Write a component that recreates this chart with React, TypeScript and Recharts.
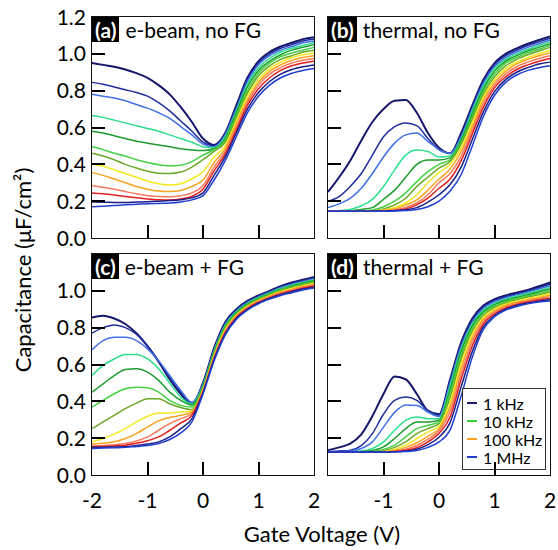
import { LineChart, Line, XAxis, YAxis, Legend } from 'recharts'

const FONT = 'Lato, "Open Sans", "DejaVu Sans", sans-serif'

// gate voltage samples shared by every curve (V)
const VOLTS = [-2, -1.8, -1.6, -1.4, -1.2, -1, -0.8, -0.6, -0.4, -0.2, 0, 0.2, 0.4, 0.6, 0.8, 1, 1.2, 1.4, 1.6, 1.8, 2]

// one colour per measurement frequency, low (1 kHz) to high (1 MHz)
const CURVE_COLORS = [
  '#16166b', '#1f2e9a', '#4270e6', '#2ddf8c', '#1d9c2d', '#44d044', '#6aa828',
  '#f0ea1e', '#f8a21e', '#f57a5a', '#e31e1e', '#1a1f85', '#1f3fd0',
]

// capacitance in uF/cm2, one row per frequency
const EBEAM_NO_FG = [
  [0.95, 0.94, 0.93, 0.915, 0.895, 0.87, 0.83, 0.78, 0.71, 0.63, 0.54, 0.505, 0.57, 0.72, 0.87, 0.96, 1.01, 1.04, 1.06, 1.08, 1.09],
  [0.845, 0.835, 0.82, 0.805, 0.79, 0.77, 0.735, 0.69, 0.635, 0.58, 0.52, 0.5, 0.565, 0.71, 0.86, 0.95, 1.0, 1.03, 1.05, 1.07, 1.08],
  [0.78, 0.77, 0.76, 0.745, 0.725, 0.705, 0.68, 0.65, 0.605, 0.56, 0.51, 0.495, 0.56, 0.7, 0.85, 0.94, 0.99, 1.02, 1.04, 1.06, 1.07],
  [0.665, 0.655, 0.64, 0.625, 0.61, 0.595, 0.58, 0.56, 0.54, 0.52, 0.495, 0.49, 0.55, 0.69, 0.835, 0.925, 0.975, 1.01, 1.03, 1.045, 1.06],
  [0.58, 0.57, 0.555, 0.54, 0.525, 0.515, 0.505, 0.495, 0.485, 0.478, 0.475, 0.485, 0.54, 0.68, 0.82, 0.91, 0.96, 0.995, 1.02, 1.035, 1.05],
  [0.495, 0.48, 0.46, 0.445, 0.425, 0.41, 0.398, 0.392, 0.395, 0.415, 0.45, 0.48, 0.53, 0.665, 0.8, 0.895, 0.95, 0.985, 1.005, 1.02, 1.035],
  [0.46, 0.445, 0.425, 0.4, 0.38, 0.362, 0.352, 0.35, 0.358, 0.385, 0.425, 0.47, 0.52, 0.65, 0.785, 0.88, 0.935, 0.97, 0.99, 1.01, 1.02],
  [0.4, 0.39, 0.37, 0.35, 0.33, 0.31, 0.295, 0.288, 0.295, 0.322, 0.36, 0.44, 0.5, 0.635, 0.77, 0.86, 0.92, 0.955, 0.98, 0.995, 1.005],
  [0.355, 0.34, 0.32, 0.3, 0.28, 0.265, 0.255, 0.252, 0.258, 0.28, 0.315, 0.41, 0.485, 0.62, 0.75, 0.845, 0.905, 0.94, 0.965, 0.98, 0.99],
  [0.285, 0.275, 0.265, 0.252, 0.24, 0.23, 0.225, 0.224, 0.23, 0.245, 0.285, 0.385, 0.47, 0.6, 0.735, 0.83, 0.89, 0.925, 0.95, 0.965, 0.975],
  [0.245, 0.24, 0.233, 0.225, 0.218, 0.212, 0.208, 0.207, 0.212, 0.227, 0.265, 0.365, 0.455, 0.585, 0.72, 0.81, 0.87, 0.91, 0.935, 0.95, 0.96],
  [0.195, 0.194, 0.193, 0.193, 0.195, 0.197, 0.2, 0.203, 0.208, 0.218, 0.245, 0.34, 0.44, 0.57, 0.7, 0.79, 0.85, 0.89, 0.915, 0.93, 0.94],
  [0.17, 0.173, 0.176, 0.18, 0.183, 0.186, 0.188, 0.19, 0.196, 0.207, 0.23, 0.315, 0.42, 0.55, 0.68, 0.77, 0.83, 0.87, 0.895, 0.91, 0.92],
]

const THERMAL_NO_FG = [
  [0.25, 0.33, 0.42, 0.53, 0.63, 0.7, 0.745, 0.75, 0.68, 0.57, 0.49, 0.46, 0.57, 0.72, 0.86, 0.95, 1.0, 1.03, 1.055, 1.075, 1.095],
  [0.2, 0.225, 0.28, 0.35, 0.45, 0.55, 0.605, 0.625, 0.61, 0.54, 0.48, 0.46, 0.56, 0.71, 0.85, 0.94, 0.99, 1.02, 1.045, 1.065, 1.085],
  [0.165, 0.185, 0.215, 0.27, 0.35, 0.44, 0.515, 0.56, 0.57, 0.525, 0.48, 0.46, 0.55, 0.7, 0.84, 0.93, 0.98, 1.01, 1.035, 1.055, 1.075],
  [0.145, 0.148, 0.155, 0.175, 0.21, 0.28, 0.37, 0.45, 0.478, 0.47, 0.44, 0.445, 0.54, 0.69, 0.825, 0.92, 0.97, 1.0, 1.025, 1.045, 1.065],
  [0.145, 0.145, 0.147, 0.155, 0.165, 0.21, 0.26, 0.33, 0.4, 0.424, 0.424, 0.435, 0.53, 0.675, 0.81, 0.905, 0.96, 0.99, 1.015, 1.035, 1.055],
  [0.145, 0.145, 0.145, 0.147, 0.152, 0.17, 0.2, 0.245, 0.306, 0.36, 0.4, 0.425, 0.52, 0.66, 0.795, 0.89, 0.95, 0.98, 1.005, 1.025, 1.045],
  [0.145, 0.145, 0.145, 0.146, 0.148, 0.158, 0.18, 0.216, 0.28, 0.33, 0.38, 0.415, 0.51, 0.645, 0.78, 0.875, 0.935, 0.97, 0.995, 1.015, 1.035],
  [0.145, 0.145, 0.145, 0.145, 0.147, 0.152, 0.166, 0.19, 0.235, 0.3, 0.355, 0.4, 0.49, 0.625, 0.765, 0.86, 0.92, 0.955, 0.98, 1.0, 1.02],
  [0.145, 0.145, 0.145, 0.145, 0.146, 0.149, 0.157, 0.18, 0.207, 0.26, 0.32, 0.375, 0.47, 0.605, 0.75, 0.845, 0.905, 0.945, 0.97, 0.99, 1.005],
  [0.145, 0.145, 0.145, 0.145, 0.145, 0.147, 0.153, 0.166, 0.19, 0.235, 0.3, 0.35, 0.445, 0.585, 0.73, 0.83, 0.89, 0.93, 0.955, 0.975, 0.99],
  [0.145, 0.145, 0.145, 0.145, 0.145, 0.146, 0.15, 0.158, 0.18, 0.216, 0.27, 0.32, 0.42, 0.565, 0.71, 0.815, 0.875, 0.915, 0.94, 0.96, 0.975],
  [0.145, 0.145, 0.145, 0.145, 0.145, 0.145, 0.148, 0.153, 0.165, 0.195, 0.235, 0.29, 0.385, 0.535, 0.685, 0.795, 0.86, 0.9, 0.925, 0.945, 0.955],
  [0.145, 0.145, 0.145, 0.145, 0.145, 0.145, 0.146, 0.149, 0.155, 0.17, 0.2, 0.255, 0.345, 0.5, 0.66, 0.775, 0.845, 0.885, 0.91, 0.925, 0.935],
]

const EBEAM_FG = [
  [0.855, 0.865, 0.85, 0.82, 0.77, 0.7, 0.615, 0.52, 0.44, 0.385, 0.5, 0.69, 0.83, 0.9, 0.945, 0.975, 1.0, 1.025, 1.045, 1.06, 1.075],
  [0.77, 0.8, 0.815, 0.8, 0.765, 0.7, 0.62, 0.53, 0.45, 0.39, 0.495, 0.684, 0.824, 0.895, 0.941, 0.971, 0.996, 1.021, 1.04, 1.055, 1.07],
  [0.68, 0.73, 0.748, 0.748, 0.73, 0.685, 0.62, 0.54, 0.459, 0.395, 0.49, 0.678, 0.818, 0.891, 0.937, 0.967, 0.992, 1.017, 1.036, 1.051, 1.065],
  [0.54, 0.595, 0.63, 0.654, 0.654, 0.63, 0.577, 0.5, 0.423, 0.385, 0.485, 0.672, 0.812, 0.886, 0.932, 0.964, 0.989, 1.013, 1.031, 1.046, 1.06],
  [0.45, 0.495, 0.54, 0.573, 0.577, 0.559, 0.514, 0.45, 0.405, 0.38, 0.48, 0.667, 0.807, 0.882, 0.928, 0.96, 0.985, 1.008, 1.027, 1.042, 1.055],
  [0.369, 0.405, 0.441, 0.468, 0.477, 0.474, 0.45, 0.405, 0.378, 0.369, 0.475, 0.661, 0.801, 0.877, 0.924, 0.956, 0.981, 1.004, 1.022, 1.037, 1.05],
  [0.252, 0.288, 0.324, 0.36, 0.39, 0.414, 0.414, 0.387, 0.366, 0.355, 0.47, 0.655, 0.795, 0.872, 0.92, 0.952, 0.977, 1.0, 1.018, 1.033, 1.045],
  [0.18, 0.198, 0.222, 0.252, 0.288, 0.319, 0.337, 0.337, 0.342, 0.348, 0.465, 0.649, 0.789, 0.868, 0.916, 0.948, 0.974, 0.996, 1.013, 1.028, 1.04],
  [0.168, 0.172, 0.18, 0.198, 0.225, 0.261, 0.294, 0.312, 0.324, 0.342, 0.46, 0.643, 0.783, 0.863, 0.912, 0.945, 0.97, 0.992, 1.008, 1.023, 1.035],
  [0.157, 0.16, 0.164, 0.171, 0.185, 0.207, 0.243, 0.279, 0.306, 0.333, 0.455, 0.637, 0.777, 0.859, 0.907, 0.941, 0.966, 0.988, 1.004, 1.019, 1.03],
  [0.153, 0.155, 0.158, 0.162, 0.172, 0.186, 0.207, 0.243, 0.283, 0.324, 0.45, 0.631, 0.771, 0.854, 0.903, 0.937, 0.962, 0.983, 0.999, 1.014, 1.025],
  [0.15, 0.151, 0.152, 0.153, 0.16, 0.168, 0.18, 0.207, 0.252, 0.306, 0.445, 0.626, 0.766, 0.85, 0.899, 0.934, 0.959, 0.979, 0.995, 1.01, 1.02],
  [0.144, 0.146, 0.148, 0.15, 0.155, 0.16, 0.171, 0.193, 0.229, 0.288, 0.44, 0.62, 0.76, 0.845, 0.895, 0.93, 0.955, 0.975, 0.99, 1.005, 1.015],
]

const THERMAL_FG = [
  [0.135, 0.15, 0.17, 0.22, 0.32, 0.44, 0.535, 0.52, 0.44, 0.35, 0.33, 0.52, 0.72, 0.85, 0.92, 0.955, 0.975, 0.99, 1.005, 1.025, 1.045],
  [0.126, 0.13, 0.135, 0.16, 0.225, 0.33, 0.405, 0.423, 0.405, 0.35, 0.325, 0.51, 0.71, 0.84, 0.91, 0.948, 0.968, 0.984, 0.999, 1.017, 1.037],
  [0.126, 0.127, 0.13, 0.144, 0.18, 0.26, 0.34, 0.38, 0.378, 0.342, 0.318, 0.5, 0.7, 0.83, 0.905, 0.94, 0.962, 0.978, 0.993, 1.01, 1.028],
  [0.125, 0.125, 0.126, 0.13, 0.144, 0.18, 0.243, 0.297, 0.315, 0.306, 0.306, 0.485, 0.685, 0.82, 0.895, 0.932, 0.955, 0.971, 0.986, 1.002, 1.02],
  [0.125, 0.125, 0.125, 0.127, 0.133, 0.153, 0.198, 0.252, 0.288, 0.288, 0.297, 0.465, 0.67, 0.81, 0.887, 0.925, 0.948, 0.964, 0.979, 0.994, 1.011],
  [0.125, 0.125, 0.125, 0.126, 0.128, 0.138, 0.162, 0.207, 0.252, 0.27, 0.288, 0.445, 0.65, 0.795, 0.878, 0.917, 0.941, 0.958, 0.972, 0.986, 1.002],
  [0.125, 0.125, 0.125, 0.125, 0.126, 0.132, 0.15, 0.18, 0.225, 0.252, 0.279, 0.42, 0.63, 0.78, 0.868, 0.909, 0.934, 0.951, 0.966, 0.978, 0.994],
  [0.125, 0.125, 0.125, 0.125, 0.125, 0.128, 0.14, 0.162, 0.198, 0.234, 0.265, 0.395, 0.605, 0.765, 0.857, 0.901, 0.927, 0.944, 0.959, 0.97, 0.985],
  [0.125, 0.125, 0.125, 0.125, 0.125, 0.126, 0.133, 0.15, 0.175, 0.211, 0.252, 0.37, 0.58, 0.745, 0.846, 0.892, 0.92, 0.938, 0.952, 0.963, 0.976],
  [0.125, 0.125, 0.125, 0.125, 0.125, 0.125, 0.129, 0.14, 0.16, 0.195, 0.24, 0.345, 0.55, 0.725, 0.834, 0.884, 0.913, 0.931, 0.945, 0.956, 0.967],
  [0.125, 0.125, 0.125, 0.125, 0.125, 0.125, 0.127, 0.134, 0.148, 0.18, 0.225, 0.315, 0.52, 0.7, 0.82, 0.875, 0.906, 0.925, 0.939, 0.95, 0.958],
  [0.125, 0.125, 0.125, 0.125, 0.125, 0.125, 0.126, 0.13, 0.14, 0.165, 0.205, 0.285, 0.48, 0.67, 0.805, 0.866, 0.9, 0.92, 0.934, 0.944, 0.951],
  [0.125, 0.125, 0.125, 0.125, 0.125, 0.125, 0.125, 0.127, 0.133, 0.15, 0.18, 0.245, 0.43, 0.64, 0.79, 0.86, 0.895, 0.915, 0.93, 0.94, 0.945],
]

const Y_TICKS = [0, 0.2, 0.4, 0.6, 0.8, 1.0, 1.2]
const Y_TICKS_LOWER = [0, 0.2, 0.4, 0.6, 0.8, 1.0]
const X_TICKS = [-2, -1, 0, 1, 2]
const X_TICKS_RIGHT = [-1, 0, 1, 2]
// inner tick marks drawn inside each frame
const Y_MARKS = [0.2, 0.4, 0.6, 0.8, 1.0]
const X_MARKS = [-1, 0, 1]
const Y_DOMAIN = [0, 1.2]
const X_DOMAIN = [-2, 2]

const LEGEND_LABELS = ['1 kHz', '10 kHz', '100 kHz', '1 MHz']
const LEGEND_COLORS = ['#1a1a70', '#33cc33', '#ffa020', '#1e3ccd']

const PLOT_W = 222
const PLOT_H = 221
const TICK_GAP = 6
const TICK_LEN = 13
const TICK_W = 2
const PAD = 12

function toRows(curves: number[][]) {
  return VOLTS.map((v, i) => {
    const row: Record<string, number> = { v }
    curves.forEach((c, k) => {
      row[`f${k}`] = c[i]
    })
    return row
  })
}

function yLabel(showLabel: boolean) {
  return (props: any) => {
    if (!showLabel) return <g />
    return (
      <text x={props.x} y={props.y} dy="0.36em" textAnchor="end" fontFamily={FONT} fontSize={21} fill="#000">
        {Number(props.payload.value).toFixed(1)}
      </text>
    )
  }
}

function xLabel(showLabel: boolean) {
  return (props: any) => {
    if (!showLabel) return <g />
    return (
      <text x={props.x} y={Number(props.y) + 27} textAnchor="middle" fontFamily={FONT} fontSize={21} fill="#000">
        {props.payload.value}
      </text>
    )
  }
}

function FreqLegend() {
  return (
    <div
      style={{
        border: '1px solid #333',
        background: '#fff',
        padding: '5px 0 3px 4px',
        fontFamily: FONT,
        fontSize: 16,
        color: '#000',
        boxSizing: 'border-box',
      }}
    >
      {LEGEND_LABELS.map((label, i) => (
        <div key={label} style={{ display: 'flex', alignItems: 'center', height: 18 }}>
          <span style={{ width: 10, height: 2, background: LEGEND_COLORS[i], marginRight: 6 }} />
          <span>{label}</span>
        </div>
      ))}
    </div>
  )
}

// frame with inward tick marks, laid over the plot area
function Frame({ left, top }: { left: number; top: number }) {
  const ySpan = Y_DOMAIN[1] - Y_DOMAIN[0]
  const xSpan = X_DOMAIN[1] - X_DOMAIN[0]
  return (
    <div style={{ position: 'absolute', left, top, width: PLOT_W, height: PLOT_H, pointerEvents: 'none' }}>
      <div
        style={{
          position: 'absolute',
          left: -1,
          top: -1,
          right: -1,
          bottom: -1,
          border: '1.5px solid #111',
        }}
      />
      {Y_MARKS.map((t) => (
        <div
          key={`y${t}`}
          style={{
            position: 'absolute',
            left: 0,
            top: `${(1 - (t - Y_DOMAIN[0]) / ySpan) * 100}%`,
            marginTop: -TICK_W / 2,
            width: TICK_LEN,
            height: TICK_W,
            background: '#000',
          }}
        />
      ))}
      {X_MARKS.map((t) => (
        <div
          key={`x${t}`}
          style={{
            position: 'absolute',
            bottom: 0,
            left: `${((t - X_DOMAIN[0]) / xSpan) * 100}%`,
            marginLeft: -TICK_W / 2,
            width: TICK_W,
            height: TICK_LEN,
            background: '#000',
          }}
        />
      ))}
    </div>
  )
}

type PanelProps = {
  curves: number[][]
  plotLeft: number
  plotTop: number
  yLabels: boolean
  xLabels: boolean
  xTicks: number[]
  yTicks: number[]
  tag: string
  title: string
  legend?: boolean
}

function Panel({ curves, plotLeft, plotTop, yLabels, xLabels, xTicks, yTicks, tag, title, legend }: PanelProps) {
  const yw = yLabels ? 92 : 30
  const xh = xLabels ? 45 : 14
  const chartLeft = plotLeft - yw
  const chartTop = plotTop - PAD

  return (
    <>
      <div style={{ position: 'absolute', left: chartLeft, top: chartTop }}>
        <LineChart
          width={yw + PLOT_W + PAD}
          height={PAD + PLOT_H + xh}
          data={toRows(curves)}
          margin={{ top: PAD, right: PAD, left: 0, bottom: 0 }}
        >
          <XAxis
            type="number"
            dataKey="v"
            domain={X_DOMAIN}
            ticks={xTicks}
            interval={0}
            height={xh}
            axisLine={false}
            tickLine={false}
            tickSize={0}
            tickMargin={TICK_GAP}
            tick={xLabel(xLabels)}
          />
          <YAxis
            type="number"
            domain={Y_DOMAIN}
            ticks={yTicks}
            interval={0}
            width={yw}
            axisLine={false}
            tickLine={false}
            tickSize={0}
            tickMargin={TICK_GAP}
            tick={yLabel(yLabels)}
          />
          {curves.map((_, k) => (
            <Line
              key={k}
              type="monotone"
              dataKey={`f${k}`}
              stroke={CURVE_COLORS[k]}
              strokeWidth={k === 0 ? 2 : 1.5}
              dot={false}
              isAnimationActive={false}
            />
          ))}
          {legend && (
            <Legend
              layout="vertical"
              align="center"
              verticalAlign="middle"
              wrapperStyle={{ left: 462 - chartLeft, top: 388 - chartTop, width: 84 }}
              content={() => <FreqLegend />}
            />
          )}
        </LineChart>
      </div>
      <Frame left={plotLeft} top={plotTop} />
      <div
        style={{
          position: 'absolute',
          left: plotLeft,
          top: plotTop,
          display: 'flex',
          alignItems: 'center',
          fontFamily: FONT,
          fontSize: 21,
          color: '#000',
          whiteSpace: 'nowrap',
        }}
      >
        <span style={{ background: '#000', color: '#fff', fontWeight: 700, padding: '0 3px', height: 25, lineHeight: '25px' }}>
          {tag}
        </span>
        <span style={{ marginLeft: 6, lineHeight: '25px' }}>{title}</span>
      </div>
    </>
  )
}

export default function App() {
  return (
    <div style={{ position: 'absolute', left: 0, top: 0, width: 558, height: 550, background: '#fff', overflow: 'hidden' }}>
      <Panel curves={EBEAM_NO_FG} plotLeft={92} plotTop={17} yLabels xLabels={false} xTicks={X_TICKS} yTicks={Y_TICKS} tag="(a)" title="e-beam, no FG" />
      <Panel curves={THERMAL_NO_FG} plotLeft={328} plotTop={17} yLabels={false} xLabels={false} xTicks={X_TICKS} yTicks={Y_TICKS} tag="(b)" title="thermal, no FG" />
      <Panel curves={EBEAM_FG} plotLeft={92} plotTop={254} yLabels xLabels xTicks={X_TICKS} yTicks={Y_TICKS_LOWER} tag="(c)" title="e-beam + FG" />
      <Panel curves={THERMAL_FG} plotLeft={328} plotTop={254} yLabels={false} xLabels xTicks={X_TICKS_RIGHT} yTicks={Y_TICKS_LOWER} tag="(d)" title="thermal + FG" legend />
      <div
        style={{
          position: 'absolute',
          left: 22,
          top: 270,
          transform: 'translate(-50%, -50%) rotate(-90deg)',
          fontFamily: FONT,
          fontSize: 22,
          whiteSpace: 'nowrap',
          color: '#000',
        }}
      >
        Capacitance (μF/cm²)
      </div>
      <div
        style={{
          position: 'absolute',
          left: 322,
          top: 533,
          transform: 'translate(-50%, -50%)',
          fontFamily: FONT,
          fontSize: 22,
          whiteSpace: 'nowrap',
          color: '#000',
        }}
      >
        Gate Voltage (V)
      </div>
    </div>
  )
}
